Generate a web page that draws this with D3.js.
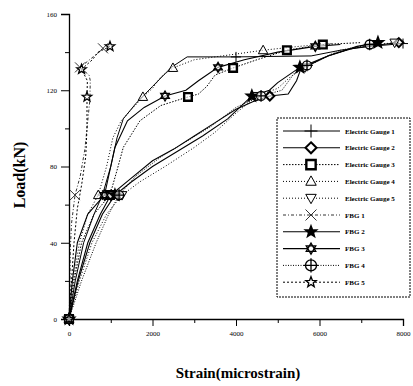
<!DOCTYPE html>
<html><head><meta charset="utf-8">
<script src="https://cdn.jsdelivr.net/npm/d3@7"></script>
<style>body{margin:0;background:#fff}svg{display:block}</style>
</head><body>
<script>
// ---- data (strain in microstrain, load in kN) ----
const seriesNames = ["Electric Gauge 1","Electric Gauge 2","Electric Gauge 3","Electric Gauge 4","Electric Gauge 5","FBG 1","FBG 2","FBG 3","FBG 4","FBG 5"];
const gauge1 = [[0,0],[150,20],[350,40],[600,55],[800,65],[1000,80],[1150,95],[1300,105],[1600,113],[2000,122],[2450,132],[2830,137.5],[4000,137.5],[5800,138],[6500,141],[7200,143],[8000,144.5]];
const gauge2 = [[0,0],[200,20],[450,40],[750,55],[1000,65],[1500,74],[2000,83],[2500,89],[3000,96],[3500,103],[4000,110],[4400,114],[4810,117],[5250,118],[5450,125],[5550,131],[6200,138],[6800,142],[7500,144],[7900,145]];
const gauge3 = [[0,0],[120,20],[300,40],[600,55],[980,65],[1150,78],[1300,90],[1700,104],[2200,112],[2850,116.5],[3100,118],[3300,122],[3500,128],[3930,131.7],[4500,136],[5220,141],[6080,144],[7000,145]];
const gauge4 = [[0,0],[100,20],[250,40],[450,55],[700,65],[900,80],[1050,95],[1250,104],[1500,110],[1770,116.5],[2000,121],[2200,127],[2490,131.7],[3000,136],[4000,139],[4650,141],[5500,143],[6300,144.5]];
const gauge5 = [[0,0],[250,20],[550,40],[900,55],[1270,65],[1700,72],[2300,80],[3000,90],[3500,98],[4000,108],[4500,117],[5000,121],[5300,127],[5650,132],[6300,139],[7000,143],[7800,145]];
const fbg1 = [[0,0],[20,15],[30,36],[60,50],[144,65],[270,75],[380,89],[450,104],[500,115],[510,125],[480,128],[263,132],[550,137],[814,142]];
const fbg2 = [[0,0],[220,20],[500,40],[800,55],[1100,65],[1500,72],[2000,80],[2600,88],[3200,96],[3800,105],[4380,117],[4800,120],[5000,124],[5530,132],[6200,138],[6900,143],[7400,145]];
const fbg3 = [[0,0],[80,20],[200,40],[450,55],[850,65],[1000,80],[1100,90],[1400,104],[1800,111],[2300,117],[2800,120],[3100,125],[3570,132],[4200,136],[5000,140],[5900,143],[6500,144]];
const fbg4 = [[0,0],[300,20],[650,40],[950,55],[1200,65],[1600,75],[2200,85],[2800,93],[3400,101],[4000,111],[4600,117],[5100,120],[5400,129],[5700,133],[6500,141],[7200,144]];
const fbg5 = [[0,0],[60,20],[120,40],[200,58],[300,70],[400,85],[431,100],[431,116.5],[440,125],[300,131],[560,136],[700,140],[982,143]];
const markIdx = [
  [0,4,12,16],
  [0,4,12,19],
  [0,4,9,13,15,16],
  [0,4,9,12,15],
  [0,4,10,13,16],
  [0,4,11,13],
  [0,4,10,13,16],
  [0,4,9,12,15],
  [0,4,10,13,15],
  [0,7,9,12]
];
const xTicks = [0,2000,4000,6000,8000];
const yTicks = [0,40,80,120,160];

const allSeries = [gauge1,gauge2,gauge3,gauge4,gauge5,fbg1,fbg2,fbg3,fbg4,fbg5];
const dashes = [null,null,"1.5,1.5","1,2","1,2","3,2,1,2",null,null,"1,1.5","2,2"];
const widths = [1,1.1,1,1,1,0.8,1.1,1.1,1,1];
const markers = ["plus","diamond","square","triUp","triDown","x","star","hexagram","circlePlus","star"];

const W=413,H=386;
const svg=d3.select("body").append("svg").attr("width",W).attr("height",H);
const x=d3.scaleLinear().domain([0,8000]).range([69,403]);
const y=d3.scaleLinear().domain([0,160]).range([319,14]);

const serif="'Liberation Serif','DejaVu Serif',serif";

// axes
const yAx=svg.append("g").attr("transform","translate(69,0)")
  .call(d3.axisLeft(y).tickValues(yTicks).tickSize(8).tickPadding(4).tickFormat(d3.format("d")));
const yMinor=svg.append("g").attr("transform","translate(69,0)")
  .call(d3.axisLeft(y).tickValues([20,60,100,140]).tickSize(4).tickFormat(""));
const xAx=svg.append("g").attr("transform","translate(0,319)")
  .call(d3.axisBottom(x).tickValues(xTicks).tickSize(7).tickPadding(5).tickFormat(d3.format("d")));
const xMinor=svg.append("g").attr("transform","translate(0,319)")
  .call(d3.axisBottom(x).tickValues([1000,3000,5000,7000]).tickSize(4).tickFormat(""));
[yAx,yMinor,xAx,xMinor].forEach(g=>{
  g.select(".domain").attr("stroke","#000").attr("stroke-width",1.3);
  g.selectAll(".tick line").attr("stroke","#000").attr("stroke-width",1);
  g.selectAll("text").attr("font-family",serif).attr("font-size",7).attr("fill","#000");
});
yMinor.select(".domain").remove(); xMinor.select(".domain").remove();

// marker path generator
function markerPath(type,r){
  const p=d3.path();
  if(type==="plus"){p.moveTo(-r,0);p.lineTo(r,0);p.moveTo(0,-r);p.lineTo(0,r);}
  else if(type==="diamond"){p.moveTo(0,-r);p.lineTo(r,0);p.lineTo(0,r);p.lineTo(-r,0);p.closePath();}
  else if(type==="square"){p.rect(-r*0.85,-r*0.85,r*1.7,r*1.7);}
  else if(type==="triUp"){p.moveTo(0,-r);p.lineTo(r*0.95,r*0.7);p.lineTo(-r*0.95,r*0.7);p.closePath();}
  else if(type==="triDown"){p.moveTo(0,r);p.lineTo(r*0.95,-r*0.7);p.lineTo(-r*0.95,-r*0.7);p.closePath();}
  else if(type==="x"){p.moveTo(-r,-r);p.lineTo(r,r);p.moveTo(r,-r);p.lineTo(-r,r);}
  else if(type==="star"){
    for(let i=0;i<10;i++){const a=-Math.PI/2+i*Math.PI/5;const rr=i%2?r*0.42:r;
      const px=rr*Math.cos(a),py=rr*Math.sin(a); if(i===0)p.moveTo(px,py);else p.lineTo(px,py);}
    p.closePath();
  }
  else if(type==="hexagram"){
    for(let t=0;t<2;t++){for(let i=0;i<3;i++){const a=-Math.PI/2+t*Math.PI+i*2*Math.PI/3;
      const px=r*Math.cos(a),py=r*Math.sin(a); if(i===0)p.moveTo(px,py);else p.lineTo(px,py);} p.closePath();}
  }
  else if(type==="circlePlus"){p.moveTo(r,0);p.arc(0,0,r,0,2*Math.PI);p.moveTo(-r*1.3,0);p.lineTo(r*1.3,0);p.moveTo(0,-r*1.3);p.lineTo(0,r*1.3);}
  return p.toString();
}
const markStroke=[1,2,2.4,1,1,0.8,1.8,1.3,1.3,1.3];
const markSize=[5,4.5,4.5,5,5,5,5.5,5,4.5,5];

const line=d3.line().x(d=>x(d[0])).y(d=>y(d[1]));
const plot=svg.append("g");
allSeries.forEach((s,i)=>{
  plot.append("path").datum(s).attr("d",line).attr("fill","none").attr("stroke","#000")
    .attr("stroke-width",widths[i]).attr("stroke-dasharray",dashes[i]);
});
allSeries.forEach((s,i)=>{
  plot.selectAll(null).data(markIdx[i].map(k=>s[k])).enter().append("path")
    .attr("transform",d=>`translate(${x(d[0])},${y(d[1])})`)
    .attr("d",markerPath(markers[i],markSize[i]))
    .attr("fill",(markers[i]==="star"&&i===6)?"#000":"#fff").attr("fill-opacity",markers[i]==="star"&&i===6?1:0.6)
    .attr("stroke","#000").attr("stroke-width",markStroke[i]);
});

// axis titles
svg.append("text").attr("x",238).attr("y",378).attr("text-anchor","middle")
  .attr("font-family",serif).attr("font-weight","bold").attr("font-size",15).text("Strain(microstrain)");
svg.append("text").attr("transform","translate(25,175) rotate(-90)").attr("text-anchor","middle")
  .attr("font-family",serif).attr("font-weight","bold").attr("font-size",16).text("Load(kN)");

// legend
const lg=svg.append("g");
lg.append("rect").attr("x",277).attr("y",118).attr("width",133).attr("height",179)
  .attr("fill","#fff").attr("stroke","#000").attr("stroke-width",1).attr("stroke-dasharray","2,1");
seriesNames.forEach((n,i)=>{
  const yy=131+i*16.8;
  lg.append("line").attr("x1",283).attr("x2",340).attr("y1",yy).attr("y2",yy)
    .attr("stroke","#000").attr("stroke-width",widths[i]).attr("stroke-dasharray",dashes[i]);
  lg.append("path").attr("transform",`translate(311,${yy})`).attr("d",markerPath(markers[i],markers[i]==="plus"?6.5:5.5))
    .attr("fill",(i===6)?"#000":"#fff").attr("stroke","#000").attr("stroke-width",markStroke[i]);
  lg.append("text").attr("x",345).attr("y",yy+2.5).attr("font-family",serif).attr("font-weight","bold")
    .attr("font-size",7).text(n);
});
</script>
</body></html>
